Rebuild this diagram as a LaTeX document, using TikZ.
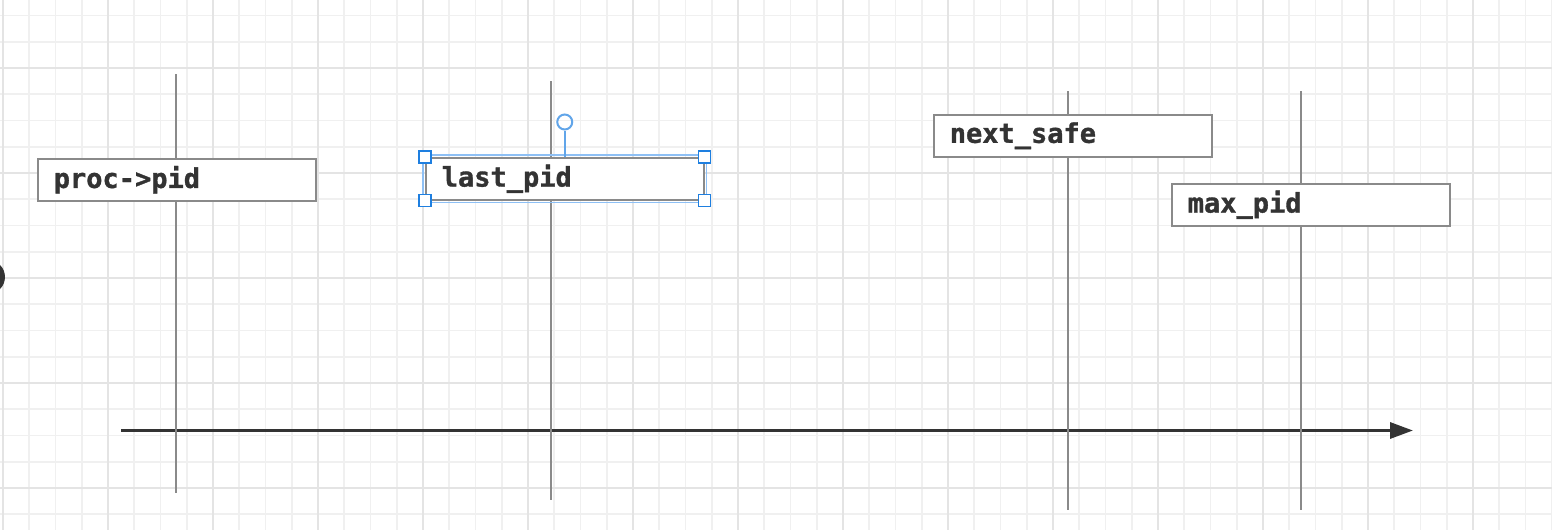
\documentclass[tikz,border=0pt]{standalone}
\usepackage{fontspec}
\newfontfamily\pidfont{DejaVu Sans Mono}[BoldFont={DejaVu Sans Mono Bold}, BoldFeatures={FakeBold=1.2}]
\usetikzlibrary{arrows.meta}
\definecolor{gridminor}{HTML}{F0F0F0}
\definecolor{gridmajor}{HTML}{E4E4E4}
\definecolor{ink}{HTML}{333333}
\definecolor{rule}{HTML}{8A8A8A}
\definecolor{selblue}{HTML}{1E7FE0}
\definecolor{sellight}{HTML}{8EC0F5}

\begin{document}
\begin{tikzpicture}[x=1pt, y=-1pt,
    varbox/.style={draw=rule, line width=1.5pt, fill=white, minimum height=42pt,
        text width=246pt, inner xsep=16pt, inner ysep=0pt, align=left, text=ink,
        font=\pidfont\fontsize{27}{30}\selectfont\bfseries, anchor=north west},
    marker/.style={draw=rule, line width=1.5pt},
    handle/.style={draw=selblue, fill=white, line width=1.2pt, minimum size=12pt, inner sep=0pt}]
            \useasboundingbox (0,0) rectangle (1552,530);
            \clip (0,0) rectangle (1552,530);
            \fill[white] (0,0) rectangle (1552,530);

            % grid
            \foreach \gx in {0,...,59}
                \draw[gridminor, line width=1.6pt] ({3+26.25*\gx},0) -- ({3+26.25*\gx},530);
            \foreach \gy in {0,...,19}
                \draw[gridminor, line width=1.6pt] (0,{15.5+26.25*\gy}) -- (1552,{15.5+26.25*\gy});
            \foreach \gx in {0,...,14}
                \draw[gridmajor, line width=1.8pt] ({3+105*\gx},0) -- ({3+105*\gx},530);
            \foreach \gy in {0,...,4}
                \draw[gridmajor, line width=1.8pt] (0,{68+105*\gy}) -- (1552,{68+105*\gy});

            \fill[ink] (-12,277) circle (17);

            % time axis
            \coordinate (axs) at (121,430.5);
            \coordinate (axe) at (1413,430.5);
            \draw[ink, line width=3.2pt, -{Triangle[length=23pt, width=16pt]}] (axs) -- (axe);

            % markers
            \coordinate (p1t) at (176,74);   \coordinate (p1b) at (176,493);
            \coordinate (p2t) at (551,81);   \coordinate (p2b) at (551,500);
            \coordinate (p3t) at (1068,91);  \coordinate (p3b) at (1068,510);
            \coordinate (p4t) at (1301,91);  \coordinate (p4b) at (1301,510);
            \draw[marker] (p1t) -- (p1b);
            \draw[marker] (p2t) -- (p2b);
            \draw[marker] (p3t) -- (p3b);
            \draw[marker] (p4t) -- (p4b);

            \node[varbox] (proc) at (37,158) {proc->pid};
            \node[varbox] (last) at (425,157) {last\_pid};
            \node[varbox] (safe) at (933,114) {next\_safe};
            \node[varbox] (maxp) at (1171,183) {max\_pid};

            % selection
            \draw[sellight, line width=1.2pt] ([shift={(-2,-2)}]last.north west) rectangle ([shift={(2,2)}]last.south east);
            \node[draw=selblue!70, line width=2pt, circle, minimum size=15pt, inner sep=0pt] (rot) at ([yshift=35pt]last.north) {};
            \draw[selblue!70, line width=2pt] (rot) -- (last.north);
            \node[handle] at (last.north west) {};
            \node[handle] at (last.north east) {};
            \node[handle] at (last.south west) {};
            \node[handle] at (last.south east) {};
        \end{tikzpicture}
\end{document}
